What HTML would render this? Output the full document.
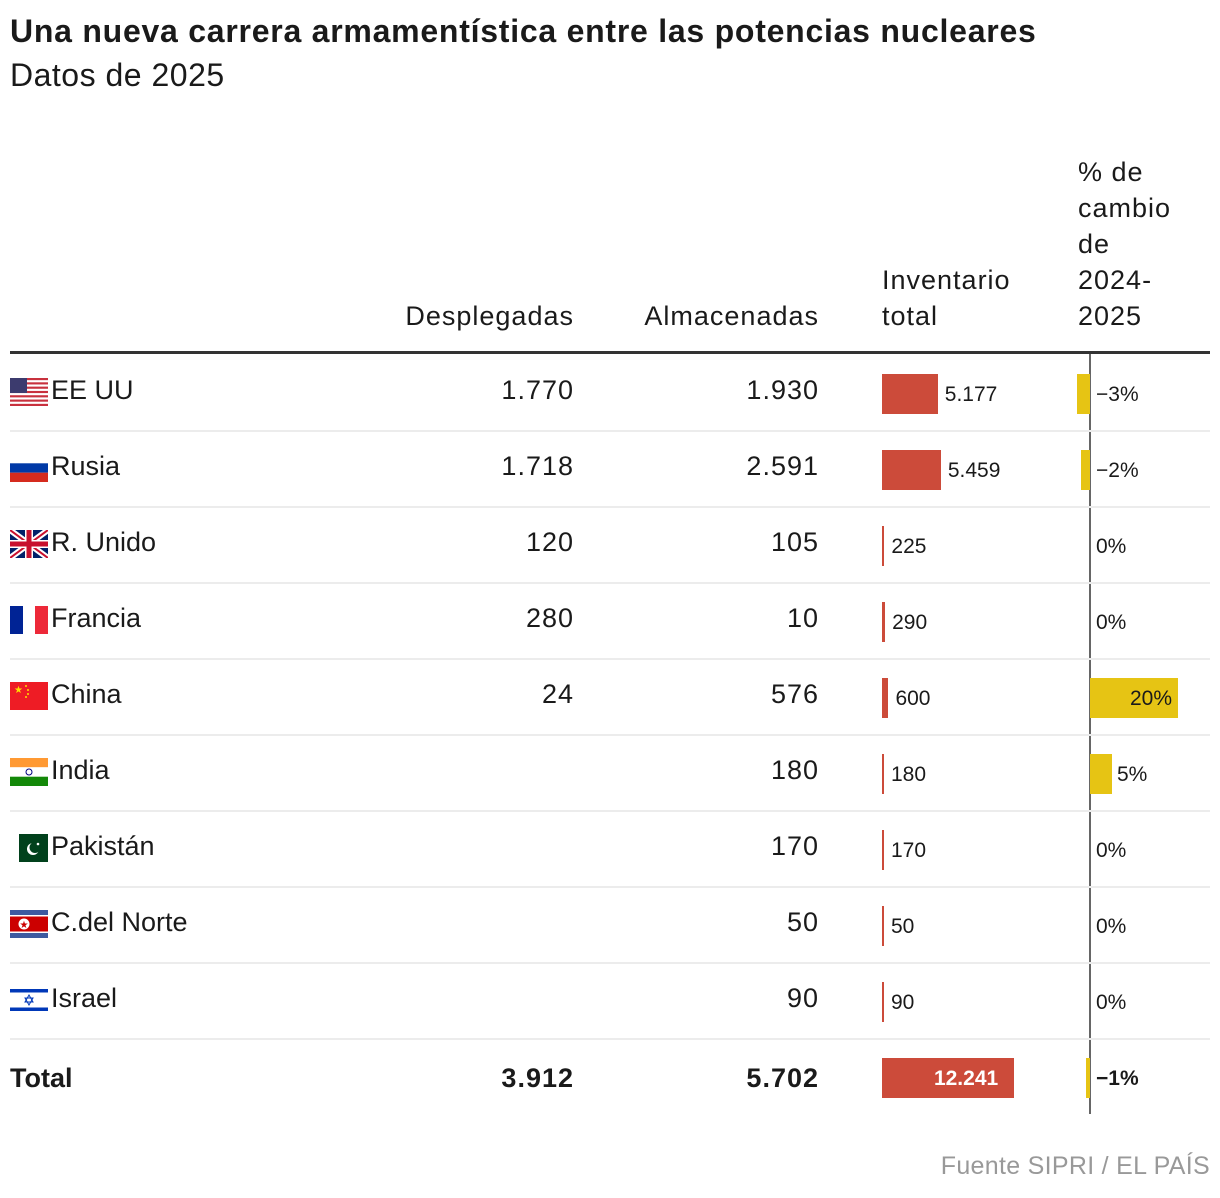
<!DOCTYPE html>
<html><head><meta charset="utf-8">
<style>
body{margin:0;background:#fff;font-family:"Liberation Sans",sans-serif;color:#1a1a1a;}
#root{position:relative;width:1220px;height:1198px;overflow:hidden;}
.abs{position:absolute;white-space:nowrap;}
.title{left:10px;top:13px;font-size:32px;font-weight:bold;letter-spacing:0.75px;}
.sub{left:10px;top:57px;font-size:32px;letter-spacing:0.5px;}
.hdr{font-size:27px;line-height:36px;letter-spacing:1px;}
.cell{font-size:27px;letter-spacing:1px;}
.cname{font-size:27px;letter-spacing:0px;}
.val{font-size:21px;}
.src{right:10px;top:1152px;font-size:25px;color:#999;letter-spacing:0.3px;}
</style></head><body>
<div id="root">
<div class="abs title">Una nueva carrera armamentística entre las potencias nucleares</div>
<div class="abs sub">Datos de 2025</div>
<div class="abs hdr" style="right:646px;top:298px">Desplegadas</div>
<div class="abs hdr" style="right:401px;top:298px">Almacenadas</div>
<div class="abs hdr" style="left:882px;top:262px">Inventario<br>total</div>
<div class="abs hdr" style="left:1078px;top:154px">% de<br>cambio<br>de<br>2024-<br>2025</div>
<div class="abs" style="left:10px;top:351px;width:1200px;height:3px;background:#333"></div>
<div class="abs" style="left:1089px;top:354px;width:2px;height:760px;background:#666"></div>
<div class="abs src">Fuente SIPRI / EL PAÍS</div>
</div>
<script>
const countries=["EE UU","Rusia","R. Unido","Francia","China","India","Pakistán","C.del Norte","Israel"];
const deployed=["1.770","1.718","120","280","24","","","",""];
const stored=["1.930","2.591","105","10","576","180","170","50","90"];
const inventory=[5177,5459,225,290,600,180,170,50,90];
const change=[-3,-2,0,0,20,5,0,0,0];
const totalDeployed="3.912", totalStored="5.702", totalInventory=12241, totalChange=-1;

const flags={
"EE UU":'<rect width="38" height="28" fill="#fff"/>'+[0,2,4,6,8,10,12].map(i=>`<rect y="${i*28/13}" width="38" height="${28/13}" fill="#c8313e"/>`).join('')+'<rect width="17" height="15" fill="#3c3b6e"/>',
"Rusia":'<rect width="38" height="9.3" fill="#fff"/><rect y="9.3" width="38" height="9.4" fill="#0039a6"/><rect y="18.7" width="38" height="9.3" fill="#d52b1e"/>',
"R. Unido":'<rect width="38" height="28" fill="#012169"/><path d="M0 0L38 28M38 0L0 28" stroke="#fff" stroke-width="6"/><path d="M0 0L38 28M38 0L0 28" stroke="#c8102e" stroke-width="2"/><path d="M19 0V28M0 14H38" stroke="#fff" stroke-width="8"/><path d="M19 0V28M0 14H38" stroke="#c8102e" stroke-width="5"/>',
"Francia":'<rect width="13" height="28" fill="#002395"/><rect x="13" width="12" height="28" fill="#fff"/><rect x="25" width="13" height="28" fill="#ed2939"/>',
"China":'<rect width="38" height="28" fill="#ee1c25"/><text x="4" y="11" font-size="10" fill="#ffde00">★</text><circle cx="16" cy="4" r="1" fill="#ffde00"/><circle cx="18" cy="8" r="1" fill="#ffde00"/><circle cx="18" cy="12" r="1" fill="#ffde00"/><circle cx="16" cy="15" r="1" fill="#ffde00"/>',
"India":'<rect width="38" height="9.3" fill="#ff9933"/><rect y="9.3" width="38" height="9.4" fill="#fff"/><rect y="18.7" width="38" height="9.3" fill="#138808"/><circle cx="19" cy="14" r="3" fill="none" stroke="#000080"/>',
"Pakistán":'<rect width="38" height="28" fill="#fff"/><rect x="9" width="29" height="28" fill="#01411c"/><circle cx="23" cy="15" r="6" fill="#fff"/><circle cx="25" cy="13.5" r="5.5" fill="#01411c"/><circle cx="28" cy="10" r="1.3" fill="#fff"/>',
"C.del Norte":'<rect width="38" height="28" fill="#3e5aa0"/><rect y="5" width="38" height="18" fill="#fff"/><rect y="6.5" width="38" height="15" fill="#c00"/><circle cx="14" cy="14" r="5.5" fill="#fff"/><text x="9.5" y="18" font-size="10" fill="#c00">★</text>',
"Israel":'<rect width="38" height="28" fill="#fff"/><rect y="3" width="38" height="3.5" fill="#0038b8"/><rect y="21.5" width="38" height="3.5" fill="#0038b8"/><path d="M19 9L23 16H15ZM19 19L15 12H23Z" fill="none" stroke="#0038b8" stroke-width="1"/>'
};
const root=document.getElementById('root');
const invX=v=>v*0.01078;
const chgX=v=>v*4.4;
const AX=1090, BX=882;
function div(cls,style,html){const d=document.createElement('div');d.className='abs '+cls;d.style.cssText=style;d.innerHTML=html;root.appendChild(d);return d;}
countries.forEach((c,i)=>{
  const top=355+i*76;
  let e;
  e=div('', `left:10px;top:${top+23}px;width:38px;height:28px`, `<svg width="38" height="28" viewBox="0 0 38 28">${flags[c]}</svg>`);
  
  
  e=div('cname',`left:51px;top:${top+20}px`,c);
  
  
  e=div('cell',`right:646px;top:${top+20}px`,deployed[i]);
  
  
  e=div('cell',`right:401px;top:${top+20}px`,stored[i]);
  
  
  const w=Math.max(2,invX(inventory[i]));
  e=div('',`left:${BX}px;top:${top+19}px;width:${w}px;height:40px;background:#cc4b3a`,'');
  
  
  e=div('val',`left:${BX+w+7}px;top:${top+28}px`,inventory[i].toLocaleString('de-DE'));
  
  
  const cv=change[i], cw=chgX(Math.abs(cv));
  if(cv!==0){
    e=div('',`left:${cv<0?AX-cw:AX}px;top:${top+19}px;width:${cw}px;height:40px;background:#e6c414`,'');
    
    
  }
  const lbl=(cv<0?'−'+Math.abs(cv):cv)+'%';
  const lx = cv>=15 ? AX+cw-48 : (cv>0? AX+cw+5 : AX+6);
  e=div('val',`left:${lx}px;top:${top+28}px`,lbl);
  
  
  e=div('',`left:10px;top:${top+75}px;width:1200px;height:2px;background:#ececec`,'');
  
  
});
const tt=1039;
let e;
e=div('cname',`left:10px;top:${tt+24}px;font-weight:bold`,'Total');


e=div('cell',`right:646px;top:${tt+24}px;font-weight:bold`,totalDeployed);


e=div('cell',`right:401px;top:${tt+24}px;font-weight:bold`,totalStored);


const tw=invX(totalInventory);
e=div('',`left:${BX}px;top:${tt+19}px;width:${tw}px;height:40px;background:#cc4b3a`,'');


e=div('val',`left:${BX+tw-80}px;top:${tt+28}px;color:#fff;font-weight:bold`,totalInventory.toLocaleString('de-DE'));


const tcw=chgX(Math.abs(totalChange));
e=div('',`left:${AX-tcw}px;top:${tt+19}px;width:${tcw}px;height:40px;background:#e6c414`,'');


e=div('val',`left:${AX+6}px;top:${tt+28}px;font-weight:bold`,'−'+Math.abs(totalChange)+'%');


</script>
</body></html>
